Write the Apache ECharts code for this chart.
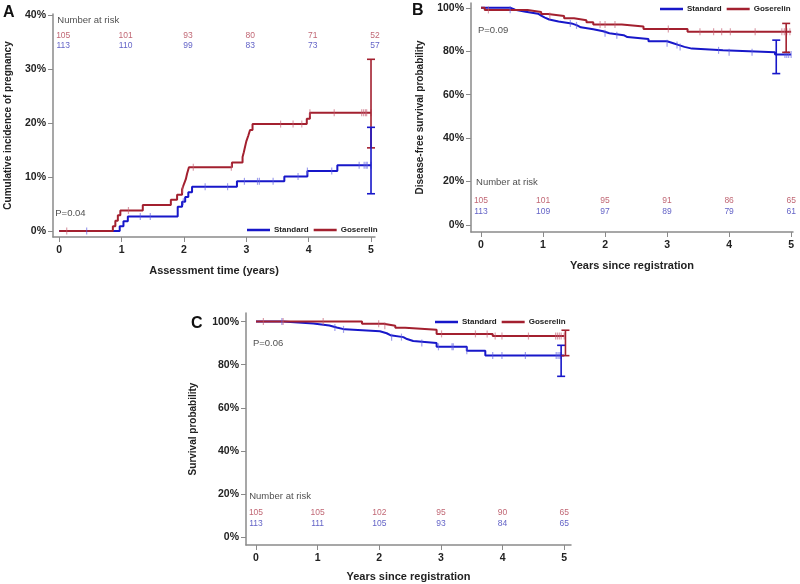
<!DOCTYPE html>
<html><head><meta charset="utf-8">
<script src="https://cdn.jsdelivr.net/npm/echarts@6/dist/echarts.min.js"></script>
<style>html,body{margin:0;padding:0;background:#fff}#c{width:800px;height:584px}</style>
</head><body><div id="c"></div>
<script>
// ---------- DATA ----------
const riskTimes = [0, 1, 2, 3, 4, 5];
const xTicks = [0, 1, 2, 3, 4, 5];
const yTicksA = [0, 10, 20, 30, 40];
const yTicksBC = [0, 20, 40, 60, 80, 100];

// Panel A: cumulative incidence of pregnancy (%)
const aStdSteps = [[0,0],[0.97,0.9],[1.03,1.8],[1.1,2.7],[1.9,4.5],[1.97,5.4],[2.02,6.3],[2.07,7.2],[2.13,8.2],[2.85,9.2],[3.61,10.1],[3.98,11.1],[4.46,12.2],[5.0,12.2]];
const aGosSteps = [[0,0],[0.86,0.9],[0.9,1.9],[0.94,2.9],[0.98,3.8],[1.34,4.8],[1.79,5.8],[1.89,6.7],[1.97,7.7],[2.0,8.7],[2.03,9.6],[2.05,10.6],[2.08,11.8],[2.77,12.7],[2.94,13.7],[2.96,14.6],[2.98,15.6],[3.0,16.6],[3.03,17.6],[3.06,18.7],[3.1,19.8],[3.97,20.8],[4.02,21.9],[5.0,21.9]];
const aStdCens = [0.44,1.3,1.46,1.99,2.34,2.70,2.97,3.18,3.21,3.43,3.83,3.98,4.37,4.81,4.89,4.92,4.94,5.0];
const aGosCens = [0.12,1.11,1.98,2.15,2.76,3.55,3.75,3.89,4.02,4.41,4.85,4.88,4.91,4.93,5.0];
const aStdCI = [5.0, 6.9, 19.2];
const aGosCI = [5.0, 15.4, 31.8];
const aRiskGos = [105, 101, 93, 80, 71, 52];
const aRiskStd = [113, 110, 99, 83, 73, 57];

// Panel B: disease-free survival (%)
const bStdSteps = [[0,100],[0.47,99.1],[0.55,98.2],[0.72,97.3],[0.92,96.4],[0.97,95.5],[1.03,94.6],[1.1,93.7],[1.25,92.8],[1.46,91.9],[1.55,91.0],[1.61,90.1],[1.81,89.2],[1.97,88.3],[2.07,87.4],[2.3,86.5],[2.36,85.6],[2.7,84.6],[3.0,83.7],[3.1,82.9],[3.18,82.0],[3.28,81.2],[3.4,80.4],[3.9,79.5],[4.74,78.5],[5.0,78.5]];
const bGosSteps = [[0,100],[0.06,99.0],[0.75,98.1],[0.97,97.1],[1.08,96.2],[1.34,95.2],[1.5,94.3],[1.7,93.3],[1.81,92.3],[2.27,91.4],[2.62,90.2],[3.33,89.0],[5.0,89.0]];
const bStdCens = [0.47,1.44,1.54,2.0,2.19,3.0,3.16,3.21,3.83,4.0,4.37,4.9,4.93,4.96,5.0];
const bGosCens = [0.12,1.11,1.92,2.0,2.16,3.02,3.53,3.75,3.88,4.02,4.42,4.85,4.89,4.93,4.98];
const bStdCI = [4.76, 69.7, 85.1];
const bGosCI = [4.92, 79.5, 92.8];
const bRiskGos = [105, 101, 95, 91, 86, 65];
const bRiskStd = [113, 109, 97, 89, 79, 61];

// Panel C: overall survival (%)
const cStdSteps = [[0,100],[0.44,99.1],[0.93,98.2],[1.19,97.3],[1.31,96.4],[1.44,95.5],[2.01,94.6],[2.12,93.7],[2.18,92.8],[2.39,91.9],[2.45,91.0],[2.55,90.1],[2.93,88.3],[3.42,86.5],[3.72,84.3],[5.0,84.3]];
const cGosSteps = [[0,100],[1.72,99.0],[2.07,98.1],[2.26,97.1],[2.42,96.2],[2.93,94.3],[3.84,93.3],[5.0,93.3]];
const cStdCens = [0.42,1.28,1.42,2.2,2.36,2.69,2.96,3.18,3.2,3.42,3.84,3.99,4.37,4.87,4.9,4.93,4.95];
const cGosCens = [0.12,0.44,1.09,1.99,2.09,3.01,3.56,3.75,3.88,3.99,4.42,4.86,4.89,4.92,4.95,5.0];
const cStdCI = [4.95, 74.6, 89.0];
const cGosCI = [5.02, 84.2, 96.0];
const cRiskGos = [105, 105, 102, 95, 90, 65];
const cRiskStd = [113, 111, 105, 93, 84, 65];

const pA = 'P=0.04', pB = 'P=0.09', pC = 'P=0.06';
const seriesNames = ['Standard', 'Goserelin'];

// ---------- STYLE ----------
const BLUE = '#1717c9', RED = '#a3202f';
const BLUE_C = 'rgba(95,95,225,0.75)', RED_C = 'rgba(195,95,115,0.75)';
const BLUE_T = '#3a3ab8', RED_T = '#b04050';
const FONT = '"Liberation Sans", Arial, sans-serif';
const AXC = '#8a8a8a';

function stepAt(steps, t) {
  let v = steps[0][1];
  for (const s of steps) { if (s[0] <= t) v = s[1]; }
  return v;
}

function xAxis(gi, min, max, name, gap) {
  return {
    type: 'value', gridIndex: gi, min: min, max: max,
    name: name, nameLocation: 'middle', nameGap: gap,
    nameTextStyle: { fontFamily: FONT, fontWeight: 'bold', fontSize: 11, color: '#222' },
    splitLine: { show: false },
    axisLine: { show: true, onZero: false, lineStyle: { color: AXC, width: 1.5 } },
    axisTick: { show: true, length: 5, lineStyle: { color: AXC, width: 1 }, customValues: xTicks },
    axisLabel: { fontFamily: FONT, fontWeight: 'bold', fontSize: 10.5, color: '#222', margin: 8, customValues: xTicks, formatter: v => String(v) }
  };
}
function yAxis(gi, min, max, name, gap, ticks) {
  return {
    type: 'value', gridIndex: gi, min: min, max: max,
    name: name, nameLocation: 'middle', nameGap: gap, nameRotate: 90,
    nameTextStyle: { fontFamily: FONT, fontWeight: 'bold', fontSize: 10, color: '#222' },
    splitLine: { show: false },
    axisLine: { show: true, onZero: false, lineStyle: { color: AXC, width: 1.5 } },
    axisTick: { show: true, length: 5, lineStyle: { color: AXC, width: 1 }, customValues: ticks },
    axisLabel: { fontFamily: FONT, fontWeight: 'bold', fontSize: 10.5, color: '#222', margin: 7, customValues: ticks, formatter: v => v + '%' }
  };
}

function curve(name, steps, color, gi) {
  return { name: name, type: 'line', step: 'end', xAxisIndex: gi, yAxisIndex: gi, data: steps,
    showSymbol: false, symbol: 'none', lineStyle: { color: color, width: 2 }, itemStyle: { color: color },
    z: 3, animation: false, clip: false };
}
function cens(steps, times, color, gi) {
  return { name: 'cens', type: 'scatter', xAxisIndex: gi, yAxisIndex: gi,
    data: times.map(t => [t, stepAt(steps, t)]), symbol: 'rect', symbolSize: [1.2, 7],
    itemStyle: { color: color }, z: 4, animation: false, silent: true };
}
function ci(arr, color, gi) {
  return { name: 'ci', type: 'custom', xAxisIndex: gi, yAxisIndex: gi, data: [arr],
    encode: { x: 0, y: [1, 2] }, z: 5, animation: false, silent: true,
    renderItem: function (params, api) {
      const x = api.value(0), lo = api.value(1), hi = api.value(2);
      const p1 = api.coord([x, lo]), p2 = api.coord([x, hi]);
      const w = 4, st = { stroke: color, lineWidth: 1.6 };
      return { type: 'group', children: [
        { type: 'line', shape: { x1: p1[0], y1: p1[1], x2: p2[0], y2: p2[1] }, style: st },
        { type: 'line', shape: { x1: p1[0] - w, y1: p1[1], x2: p1[0] + w, y2: p1[1] }, style: st },
        { type: 'line', shape: { x1: p2[0] - w, y1: p2[1], x2: p2[0] + w, y2: p2[1] }, style: st }
      ] };
    } };
}
function risk(nums, yv, color, gi, off) {
  return { name: 'risk', type: 'scatter', xAxisIndex: gi, yAxisIndex: gi, symbolSize: 0,
    data: riskTimes.map((t, i) => [t, yv, nums[i]]), animation: false, silent: true,
    label: { show: true, position: 'inside', offset: [off, 0], formatter: p => String(p.value[2]),
      fontFamily: FONT, fontSize: 8.5, color: color } };
}
function txt(text, x, y, gi, size) {
  return { name: 'txt', type: 'scatter', xAxisIndex: gi, yAxisIndex: gi, symbolSize: 0,
    data: [[x, y]], animation: false, silent: true,
    label: { show: true, position: 'right', distance: 0, formatter: text,
      fontFamily: FONT, fontSize: size, color: '#222' } };
}
function legend(left, top) {
  return { show: true, data: seriesNames, left: left, top: top, orient: 'horizontal', padding: 0,
    itemGap: 5, itemWidth: 23, itemHeight: 2.5, icon: 'rect', selectedMode: false,
    textStyle: { fontFamily: FONT, fontWeight: 'bold', fontSize: 8, color: '#222', padding: [0, 0, 0, -1] } };
}

const option = {
  backgroundColor: '#fff',
  animation: false,
  grid: [
    { left: 53, top: 14, width: 322, height: 223, outerBoundsMode: 'none' },
    { left: 471, top: 3, width: 322, height: 229, outerBoundsMode: 'none' },
    { left: 246, top: 313, width: 325, height: 232, outerBoundsMode: 'none' }
  ],
  xAxis: [
    xAxis(0, -0.1, 5.064, 'Assessment time (years)', 28),
    xAxis(1, -0.161, 5.03, 'Years since registration', 28),
    xAxis(2, -0.162, 5.11, 'Years since registration', 26)
  ],
  yAxis: [
    yAxis(0, -1.11, 40.19, 'Cumulative incidence of pregnancy', 40, yTicksA),
    yAxis(1, -3.23, 102.2, 'Disease-free survival probability', 46, yTicksBC),
    yAxis(2, -3.7, 104.0, 'Survival probability', 48, yTicksBC)
  ],
  legend: [legend(247, 226), legend(660, 5), legend(435, 318)],
  graphic: [
    { type: 'text', left: 3, top: 5, style: { text: 'A', font: 'bold 16px ' + FONT, fill: '#111' } },
    { type: 'text', left: 412, top: 3, style: { text: 'B', font: 'bold 16px ' + FONT, fill: '#111' } },
    { type: 'text', left: 191, top: 316, style: { text: 'C', font: 'bold 16px ' + FONT, fill: '#111' } }
  ],
  series: [
    // A
    curve('Standard', aStdSteps, BLUE, 0), curve('Goserelin', aGosSteps, RED, 0),
    cens(aStdSteps, aStdCens, BLUE_C, 0), cens(aGosSteps, aGosCens, RED_C, 0),
    ci(aGosCI, RED, 0), ci(aStdCI, BLUE, 0),
    risk(aRiskGos, 36.1, RED_T, 0, 4), risk(aRiskStd, 34.3, BLUE_T, 0, 4),
    txt('Number at risk', -0.03, 39.1, 0, 9.5), txt(pA, -0.064, 3.3, 0, 9.5),
    // B
    curve('Standard', bStdSteps, BLUE, 1), curve('Goserelin', bGosSteps, RED, 1),
    cens(bStdSteps, bStdCens, BLUE_C, 1), cens(bGosSteps, bGosCens, RED_C, 1),
    ci(bStdCI, BLUE, 1), ci(bGosCI, RED, 1),
    risk(bRiskGos, 11.1, RED_T, 1, 0), risk(bRiskStd, 6.0, BLUE_T, 1, 0),
    txt('Number at risk', -0.08, 19.8, 1, 9.5), txt(pB, -0.05, 89.5, 1, 9.5),
    // C
    curve('Standard', cStdSteps, BLUE, 2), curve('Goserelin', cGosSteps, RED, 2),
    cens(cStdSteps, cStdCens, BLUE_C, 2), cens(cGosSteps, cGosCens, RED_C, 2),
    ci(cStdCI, BLUE, 2), ci(cGosCI, RED, 2),
    risk(cRiskGos, 11.1, RED_T, 2, 0), risk(cRiskStd, 6.0, BLUE_T, 2, 0),
    txt('Number at risk', -0.11, 19.0, 2, 9.5), txt(pC, -0.05, 90.1, 2, 9.5)
  ]
};
const chart = echarts.init(document.getElementById('c'), null, { renderer: 'canvas' });
chart.setOption(option);
</script></body></html>
